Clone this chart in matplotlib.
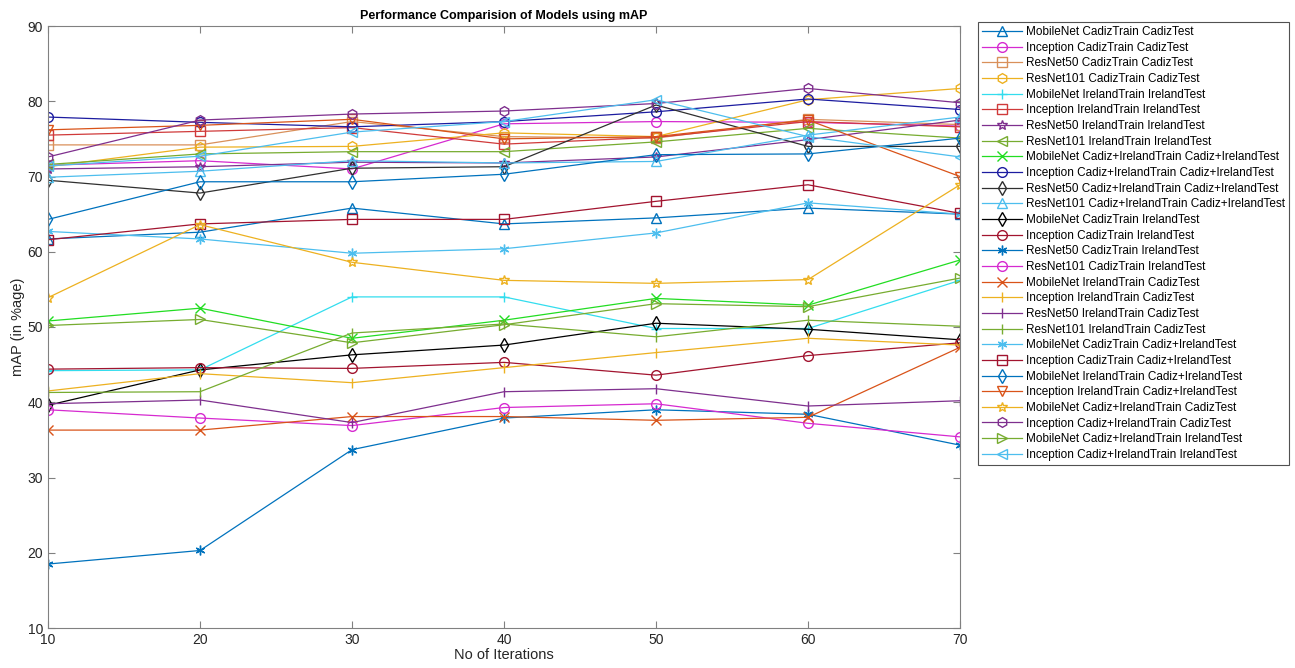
import matplotlib
matplotlib.use("Agg")
import matplotlib.pyplot as plt

iterations = [10, 20, 30, 40, 50, 60, 70]

labels = [
    "MobileNet CadizTrain CadizTest",
    "Inception CadizTrain CadizTest",
    "ResNet50 CadizTrain CadizTest",
    "ResNet101 CadizTrain CadizTest",
    "MobileNet IrelandTrain IrelandTest",
    "Inception IrelandTrain IrelandTest",
    "ResNet50 IrelandTrain IrelandTest",
    "ResNet101 IrelandTrain IrelandTest",
    "MobileNet Cadiz+IrelandTrain Cadiz+IrelandTest",
    "Inception Cadiz+IrelandTrain Cadiz+IrelandTest",
    "ResNet50 Cadiz+IrelandTrain Cadiz+IrelandTest",
    "ResNet101 Cadiz+IrelandTrain Cadiz+IrelandTest",
    "MobileNet CadizTrain IrelandTest",
    "Inception CadizTrain IrelandTest",
    "ResNet50 CadizTrain IrelandTest",
    "ResNet101 CadizTrain IrelandTest",
    "MobileNet IrelandTrain CadizTest",
    "Inception IrelandTrain CadizTest",
    "ResNet50 IrelandTrain CadizTest",
    "ResNet101 IrelandTrain CadizTest",
    "MobileNet CadizTrain Cadiz+IrelandTest",
    "Inception CadizTrain Cadiz+IrelandTest",
    "MobileNet IrelandTrain Cadiz+IrelandTest",
    "Inception IrelandTrain Cadiz+IrelandTest",
    "MobileNet Cadiz+IrelandTrain CadizTest",
    "Inception Cadiz+IrelandTrain CadizTest",
    "MobileNet Cadiz+IrelandTrain IrelandTest",
    "Inception Cadiz+IrelandTrain IrelandTest",
]

mobilenet_c_c = [61.7, 62.6, 65.8, 63.7, 64.5, 65.8, 65.0]
inception_c_c = [71.5, 72.1, 71.0, 77.0, 77.3, 77.2, 76.7]
resnet50_c_c = [74.2, 74.2, 77.3, 75.3, 75.1, 77.6, 76.9]
resnet101_c_c = [71.3, 73.9, 74.0, 75.8, 75.3, 80.2, 81.7]
mobilenet_i_i = [44.2, 44.3, 54.0, 54.0, 49.8, 49.8, 56.2]
inception_i_i = [75.5, 76.0, 76.5, 74.3, 75.2, 77.3, 76.6]
resnet50_i_i = [71.0, 71.3, 71.9, 71.8, 72.6, 74.9, 77.5]
resnet101_i_i = [71.6, 73.0, 73.3, 73.3, 74.6, 76.4, 75.1]
mobilenet_ci_ci = [50.8, 52.5, 48.5, 50.9, 53.8, 52.9, 58.9]
inception_ci_ci = [77.9, 77.2, 76.6, 77.3, 78.6, 80.3, 78.9]
resnet50_ci_ci = [69.5, 67.8, 71.1, 71.3, 79.5, 74.0, 74.0]
resnet101_ci_ci = [69.9, 70.7, 72.1, 71.8, 72.0, 75.5, 77.9]
mobilenet_c_i = [39.6, 44.3, 46.3, 47.6, 50.5, 49.7, 48.3]
inception_c_i = [44.4, 44.6, 44.5, 45.3, 43.6, 46.2, 47.9]
resnet50_c_i = [18.5, 20.3, 33.7, 37.9, 39.0, 38.4, 34.3]
resnet101_c_i = [39.0, 37.9, 36.9, 39.3, 39.8, 37.2, 35.4]
mobilenet_i_c = [36.3, 36.3, 38.1, 38.1, 37.6, 38.0, 47.3]
inception_i_c = [41.5, 43.8, 42.6, 44.6, 46.6, 48.5, 47.6]
resnet50_i_c = [39.8, 40.3, 37.3, 41.4, 41.8, 39.5, 40.2]
resnet101_i_c = [41.3, 41.4, 49.2, 50.4, 48.7, 50.9, 50.1]
mobilenet_c_ci = [62.7, 61.7, 59.8, 60.4, 62.5, 66.5, 65.0]
inception_c_ci = [61.6, 63.7, 64.3, 64.3, 66.7, 68.9, 65.1]
mobilenet_i_ci = [64.3, 69.3, 69.3, 70.3, 72.9, 73.0, 75.1]
inception_i_ci = [76.2, 76.8, 77.6, 75.0, 75.3, 77.5, 70.0]
mobilenet_ci_c = [53.9, 63.6, 58.6, 56.2, 55.8, 56.3, 68.9]
inception_ci_c = [72.6, 77.5, 78.3, 78.7, 79.7, 81.7, 79.8]
mobilenet_ci_i = [50.2, 51.0, 47.9, 50.3, 53.1, 52.7, 56.5]
inception_ci_i = [71.4, 72.7, 75.9, 77.3, 80.2, 75.3, 72.6]

series = [
    mobilenet_c_c, inception_c_c, resnet50_c_c, resnet101_c_c,
    mobilenet_i_i, inception_i_i, resnet50_i_i, resnet101_i_i,
    mobilenet_ci_ci, inception_ci_ci, resnet50_ci_ci, resnet101_ci_ci,
    mobilenet_c_i, inception_c_i, resnet50_c_i, resnet101_c_i,
    mobilenet_i_c, inception_i_c, resnet50_i_c, resnet101_i_c,
    mobilenet_c_ci, inception_c_ci, mobilenet_i_ci, inception_i_ci,
    mobilenet_ci_c, inception_ci_c, mobilenet_ci_i, inception_ci_i,
]

colors = [
    "#0072BD", "#D62AD0", "#D9905A", "#EDB120",
    "#33DDEE", "#D03A3A", "#7E2F8E", "#77AC30",
    "#22DD22", "#1C1CA0", "#303030", "#4DBEEE",
    "#000000", "#A2142F", "#0072BD", "#D62AD0",
    "#D95319", "#EDB120", "#7E2F8E", "#77AC30",
    "#4DBEEE", "#A2142F", "#0072BD", "#D95319",
    "#EDB120", "#7E2F8E", "#77AC30", "#4DBEEE",
]

markers = [
    "^", "o", "s", "h", "+", "s", "*", "<",
    "x", "o", "d", "^", "d", "o", (6, 2, 0), "o",
    "x", "|", "|", "|", (6, 2, 0), "s", "d", "v",
    "*", "h", ">", "<",
]

plt.rcParams["font.family"] = ["Liberation Sans", "DejaVu Sans"]

fig = plt.figure(figsize=(12.95, 6.68), dpi=100)
ax = fig.add_axes([48 / 1295, 1 - 628 / 668, (960 - 48) / 1295, (628 - 26) / 668])

for vals, lab, col, mk in zip(series, labels, colors, markers):
    ax.plot(iterations, vals, color=col, marker=mk, markersize=7,
            markerfacecolor="none", markeredgewidth=1.0, linewidth=0.9,
            label=lab)

ax.set_xlim(10, 70)
ax.set_ylim(10, 90)
ax.set_xticks(iterations)
ax.set_yticks(range(10, 91, 10))
axis_col = "#262626"
for sp in ax.spines.values():
    sp.set_color("#808080")
    sp.set_linewidth(0.8)
ax.tick_params(direction="in", top=True, right=True, length=5,
               colors="#808080", labelcolor=axis_col, labelsize=10)
ax.set_xlabel("No of Iterations", fontsize=10.5, color=axis_col, labelpad=1)
ax.set_ylabel("mAP (in %age)", fontsize=10.5, color=axis_col, labelpad=2)
ax.set_title("Performance Comparision of Models using mAP", fontsize=9,
             fontweight="bold", color="#000000", pad=5)

leg = fig.legend(loc="upper left", bbox_to_anchor=(978 / 1295, 1 - 22 / 668),
                 fontsize=8.5, frameon=True, fancybox=False, borderpad=0.35,
                 labelspacing=0.31, handlelength=3.4, handletextpad=0.3,
                 borderaxespad=0)
leg.get_frame().set_edgecolor("#262626")
leg.get_frame().set_linewidth(0.8)

fig.savefig("out.png", dpi=100)
